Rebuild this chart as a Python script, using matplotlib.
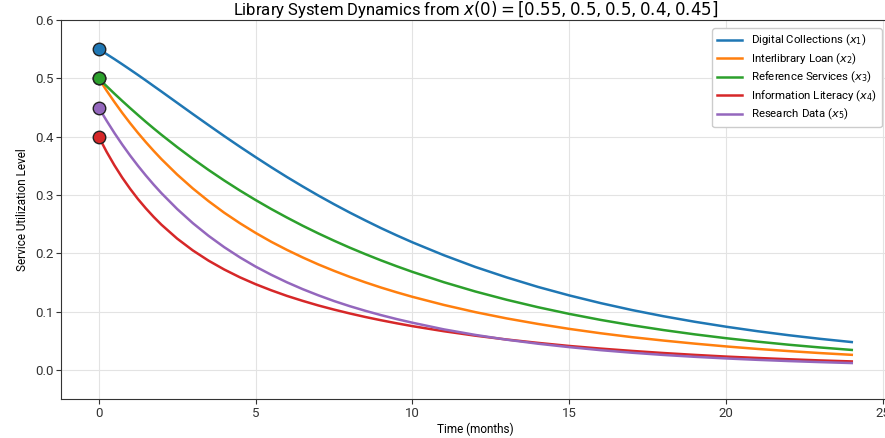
import matplotlib
matplotlib.use("Agg")
import matplotlib.pyplot as plt

plt.rcParams["font.family"] = ["Roboto", "DejaVu Sans"]

# Time points (months) and values
TIME = [0, 0.25, 0.5, 0.75, 1, 1.25, 1.5, 1.75, 2, 2.5, 3, 3.5, 4, 4.5, 5, 5.5,
        6, 6.5, 7, 7.5, 8, 8.5, 9, 9.5, 10, 11, 12, 13, 14, 15, 16, 17, 18,
        19, 20, 21, 22, 23, 24]

DIGITAL = [0.5500, 0.5418, 0.5332, 0.5243, 0.5152, 0.5060, 0.4966, 0.4870, 0.4775,
           0.4582, 0.4389, 0.4199, 0.4011, 0.3828, 0.3650, 0.3476, 0.3308, 0.3147,
           0.2991, 0.2842, 0.2699, 0.2563, 0.2431, 0.2307, 0.2188, 0.1967, 0.1766,
           0.1587, 0.1423, 0.1277, 0.1145, 0.1026, 0.0920, 0.0825, 0.0740, 0.0663,
           0.0594, 0.0532, 0.0477]
INTERLIBRARY = [0.5000, 0.4792, 0.4596, 0.4409, 0.4233, 0.4066, 0.3908, 0.3758, 0.3615,
                0.3351, 0.3112, 0.2895, 0.2696, 0.2516, 0.2350, 0.2197, 0.2058, 0.1929,
                0.1809, 0.1699, 0.1596, 0.1501, 0.1412, 0.1330, 0.1253, 0.1114, 0.0991,
                0.0883, 0.0788, 0.0703, 0.0628, 0.0561, 0.0503, 0.0450, 0.0402, 0.0359,
                0.0322, 0.0288, 0.0258]
REFERENCE = [0.5000, 0.4868, 0.4739, 0.4614, 0.4492, 0.4373, 0.4256, 0.4143, 0.4033,
             0.3822, 0.3621, 0.3430, 0.3249, 0.3077, 0.2914, 0.2759, 0.2613, 0.2473,
             0.2341, 0.2216, 0.2097, 0.1985, 0.1878, 0.1777, 0.1681, 0.1504, 0.1345,
             0.1203, 0.1075, 0.0960, 0.0857, 0.0765, 0.0683, 0.0609, 0.0543, 0.0484,
             0.0431, 0.0384, 0.0342]
LITERACY = [0.4000, 0.3743, 0.3510, 0.3298, 0.3107, 0.2931, 0.2772, 0.2625, 0.2490,
            0.2252, 0.2049, 0.1874, 0.1722, 0.1588, 0.1470, 0.1365, 0.1269, 0.1184,
            0.1105, 0.1034, 0.0968, 0.0907, 0.0851, 0.0799, 0.0750, 0.0663, 0.0587,
            0.0521, 0.0463, 0.0410, 0.0365, 0.0325, 0.0289, 0.0257, 0.0228, 0.0204,
            0.0182, 0.0162, 0.0145]
RESEARCH = [0.4500, 0.4276, 0.4064, 0.3865, 0.3678, 0.3502, 0.3336, 0.3179, 0.3031,
            0.2760, 0.2517, 0.2300, 0.2105, 0.1930, 0.1772, 0.1631, 0.1502, 0.1385,
            0.1279, 0.1181, 0.1093, 0.1013, 0.0939, 0.0871, 0.0809, 0.0695, 0.0600,
            0.0518, 0.0449, 0.0390, 0.0338, 0.0294, 0.0256, 0.0224, 0.0196, 0.0172,
            0.0151, 0.0133, 0.0117]

SERIES = [
    ("Digital Collections ($x_1$)", DIGITAL, "#1f77b4"),
    ("Interlibrary Loan ($x_2$)", INTERLIBRARY, "#ff7f0e"),
    ("Reference Services ($x_3$)", REFERENCE, "#2ca02c"),
    ("Information Literacy ($x_4$)", LITERACY, "#d62728"),
    ("Research Data ($x_5$)", RESEARCH, "#9467bd"),
]

fig = plt.figure(figsize=(8.85, 4.38), dpi=100)
ax = fig.add_axes([0.069, 0.089, 0.936, 0.865])

for label, values, color in SERIES:
    ax.plot(TIME, values, color=color, linewidth=1.8, label=label)
# starting points
for label, values, color in SERIES:
    ax.plot(TIME[0], values[0], "o", markersize=9, color=color,
            markeredgecolor="#222222", markeredgewidth=1.0, zorder=5)

ax.set_xlim(-1.2, 25.2)
ax.set_ylim(-0.05, 0.6)
ax.set_xticks([0, 5, 10, 15, 20, 25])
ax.set_yticks([0.0, 0.1, 0.2, 0.3, 0.4, 0.5, 0.6])
ax.set_yticklabels(["0.0", "0.1", "0.2", "0.3", "0.4", "0.5", "0.6"])
ax.tick_params(labelsize=9.5, colors="#333333", pad=2)
ax.grid(True, color="#e3e3e3", linewidth=0.8)
for side in ["left", "bottom", "top"]:
    ax.spines[side].set_color("#333333")

ax.set_xlabel("Time (months)", fontsize=8.5, labelpad=2)
ax.set_ylabel("Service Utilization Level", fontsize=8.5, labelpad=4)
ax.set_title("Library System Dynamics from $x(0) = [0.55, 0.5, 0.5, 0.4, 0.45]$",
             fontsize=12, pad=4)

ax.legend(loc="upper right", fontsize=8.2, frameon=True, framealpha=1.0,
          edgecolor="#cccccc", labelspacing=0.3, handlelength=2.2,
          borderpad=0.4, bbox_to_anchor=(0.9975, 0.993))

fig.savefig("out.png", dpi=100)
